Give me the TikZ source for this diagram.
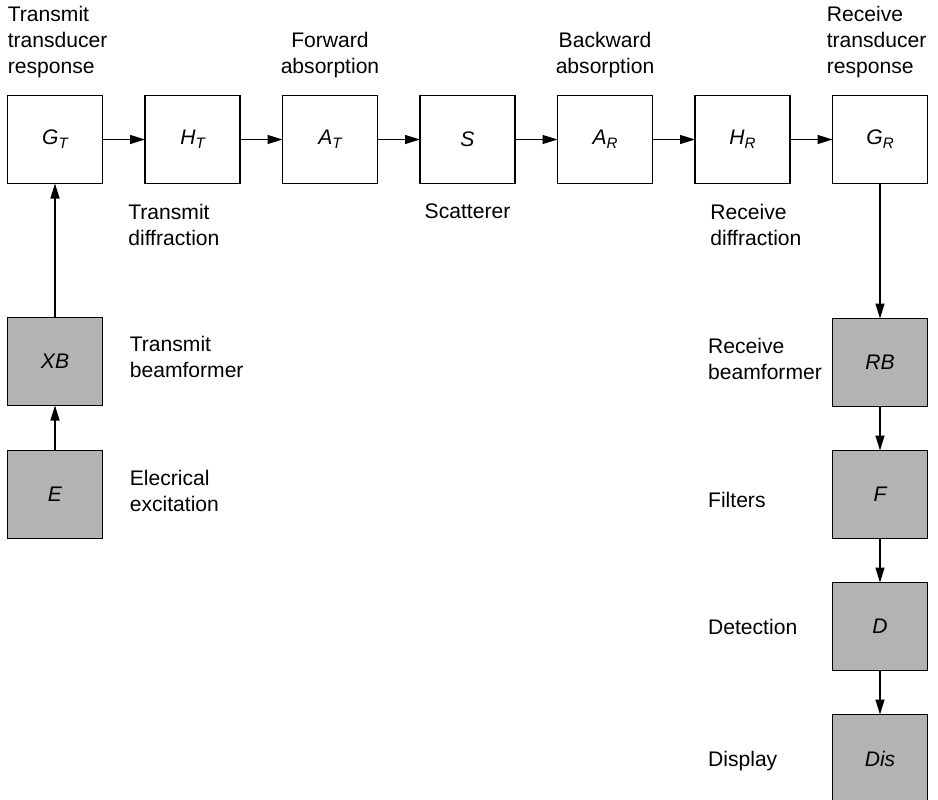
\documentclass[tikz,border=0pt]{standalone}
\usepackage{fontspec}
\setmainfont{Liberation Sans}
\usepackage{tikz}
\usetikzlibrary{arrows.meta,positioning}
\definecolor{boxgray}{HTML}{B3B3B3}
\newcommand\lowidx[1]{\raisebox{-2.4pt}{\fontsize{8.6}{8.6}\selectfont #1}}
\tikzset{
  stage/.style={rectangle,draw=black,fill=#1,line width=0.7pt,outer sep=0pt,
    minimum width=1.9cm,minimum height=1.76cm,inner sep=0pt,
    font=\fontsize{12}{14.8}\selectfont\itshape},
  stage/.default=white,
  caption/.style={inner sep=0pt,align=#1,font=\fontsize{12}{14.8}\selectfont},
  caption/.default=left,
  rcaption/.style={caption,text width=2.28cm},
  arrow/.style={-{Triangle[length=0.3cm,width=0.18cm]},line width=0.7pt}
}

\begin{document}
\begin{tikzpicture}[node distance=0.85cm]
\useasboundingbox (0,0) rectangle (18.76,-15.98);
% forward chain
\node[stage] (gt) at (1.1,-2.79) {G\lowidx{T}};
\node[stage,right=of gt] (ht) {H\lowidx{T}};
\node[stage,right=of ht] (at) {A\lowidx{T}};
\node[stage,right=of at] (s) {S};
\node[stage,right=of s] (ar) {A\lowidx{R}};
\node[stage,right=of ar] (hr) {H\lowidx{R}};
\node[stage,right=of hr] (gr) {G\lowidx{R}};
% transmit side
\node[stage=boxgray,below=2.68cm of gt] (xb) {XB};
\node[stage=boxgray,below=0.9cm of xb] (e) {E};
% receive side
\node[stage=boxgray,below=2.7cm of gr] (rb) {RB};
\node[stage=boxgray,below=0.88cm of rb] (f) {F};
\node[stage=boxgray,below=0.88cm of f] (d) {D};
\node[stage=boxgray,below=0.88cm of d] (dis) {Dis};

% captions
\node[caption,above right=0.35cm and 0cm of gt.north west] (gtcap) {Transmit\\transducer\\response};
\node[caption=center,above=0.35cm of at] (atcap) {Forward\\absorption};
\node[caption=center,above=0.35cm of ar] (arcap) {Backward\\absorption};
\node[caption,above right=0.35cm and -0.12cm of gr.north west] (grcap) {Receive\\transducer\\response};
\node[caption,below right=0.4cm and -0.34cm of ht.south west] (htcap) {Transmit\\diffraction};
\node[caption=center,below=0.4cm of s] (scap) {Scatterer};
\node[caption,below right=0.4cm and 0.3cm of hr.south west] (hrcap) {Receive\\diffraction};
\node[caption,right=0.54cm of xb,yshift=0.1cm] (xbcap) {Transmit\\beamformer};
\node[caption,right=0.54cm of e,yshift=0.08cm] (ecap) {Elecrical\\excitation};
\node[rcaption,left=0.2cm of rb,yshift=0.07cm] (rbcap) {Receive\\beamformer};
\node[rcaption,left=0.2cm of f,yshift=-0.1cm] (fcap) {Filters};
\node[rcaption,left=0.2cm of d] (dcap) {Detection};
\node[rcaption,left=0.2cm of dis,yshift=-0.05cm] (discap) {Display};

% connectors
\draw[arrow] (gt) -- (ht);
\draw[arrow] (ht) -- (at);
\draw[arrow] (at) -- (s);
\draw[arrow] (s) -- (ar);
\draw[arrow] (ar) -- (hr);
\draw[arrow] (hr) -- (gr);
\draw[arrow] (e) -- (xb);
\draw[arrow] (xb) -- (gt);
\draw[arrow] (gr) -- (rb);
\draw[arrow] (rb) -- (f);
\draw[arrow] (f) -- (d);
\draw[arrow] (d) -- (dis);
\end{tikzpicture}
\end{document}
